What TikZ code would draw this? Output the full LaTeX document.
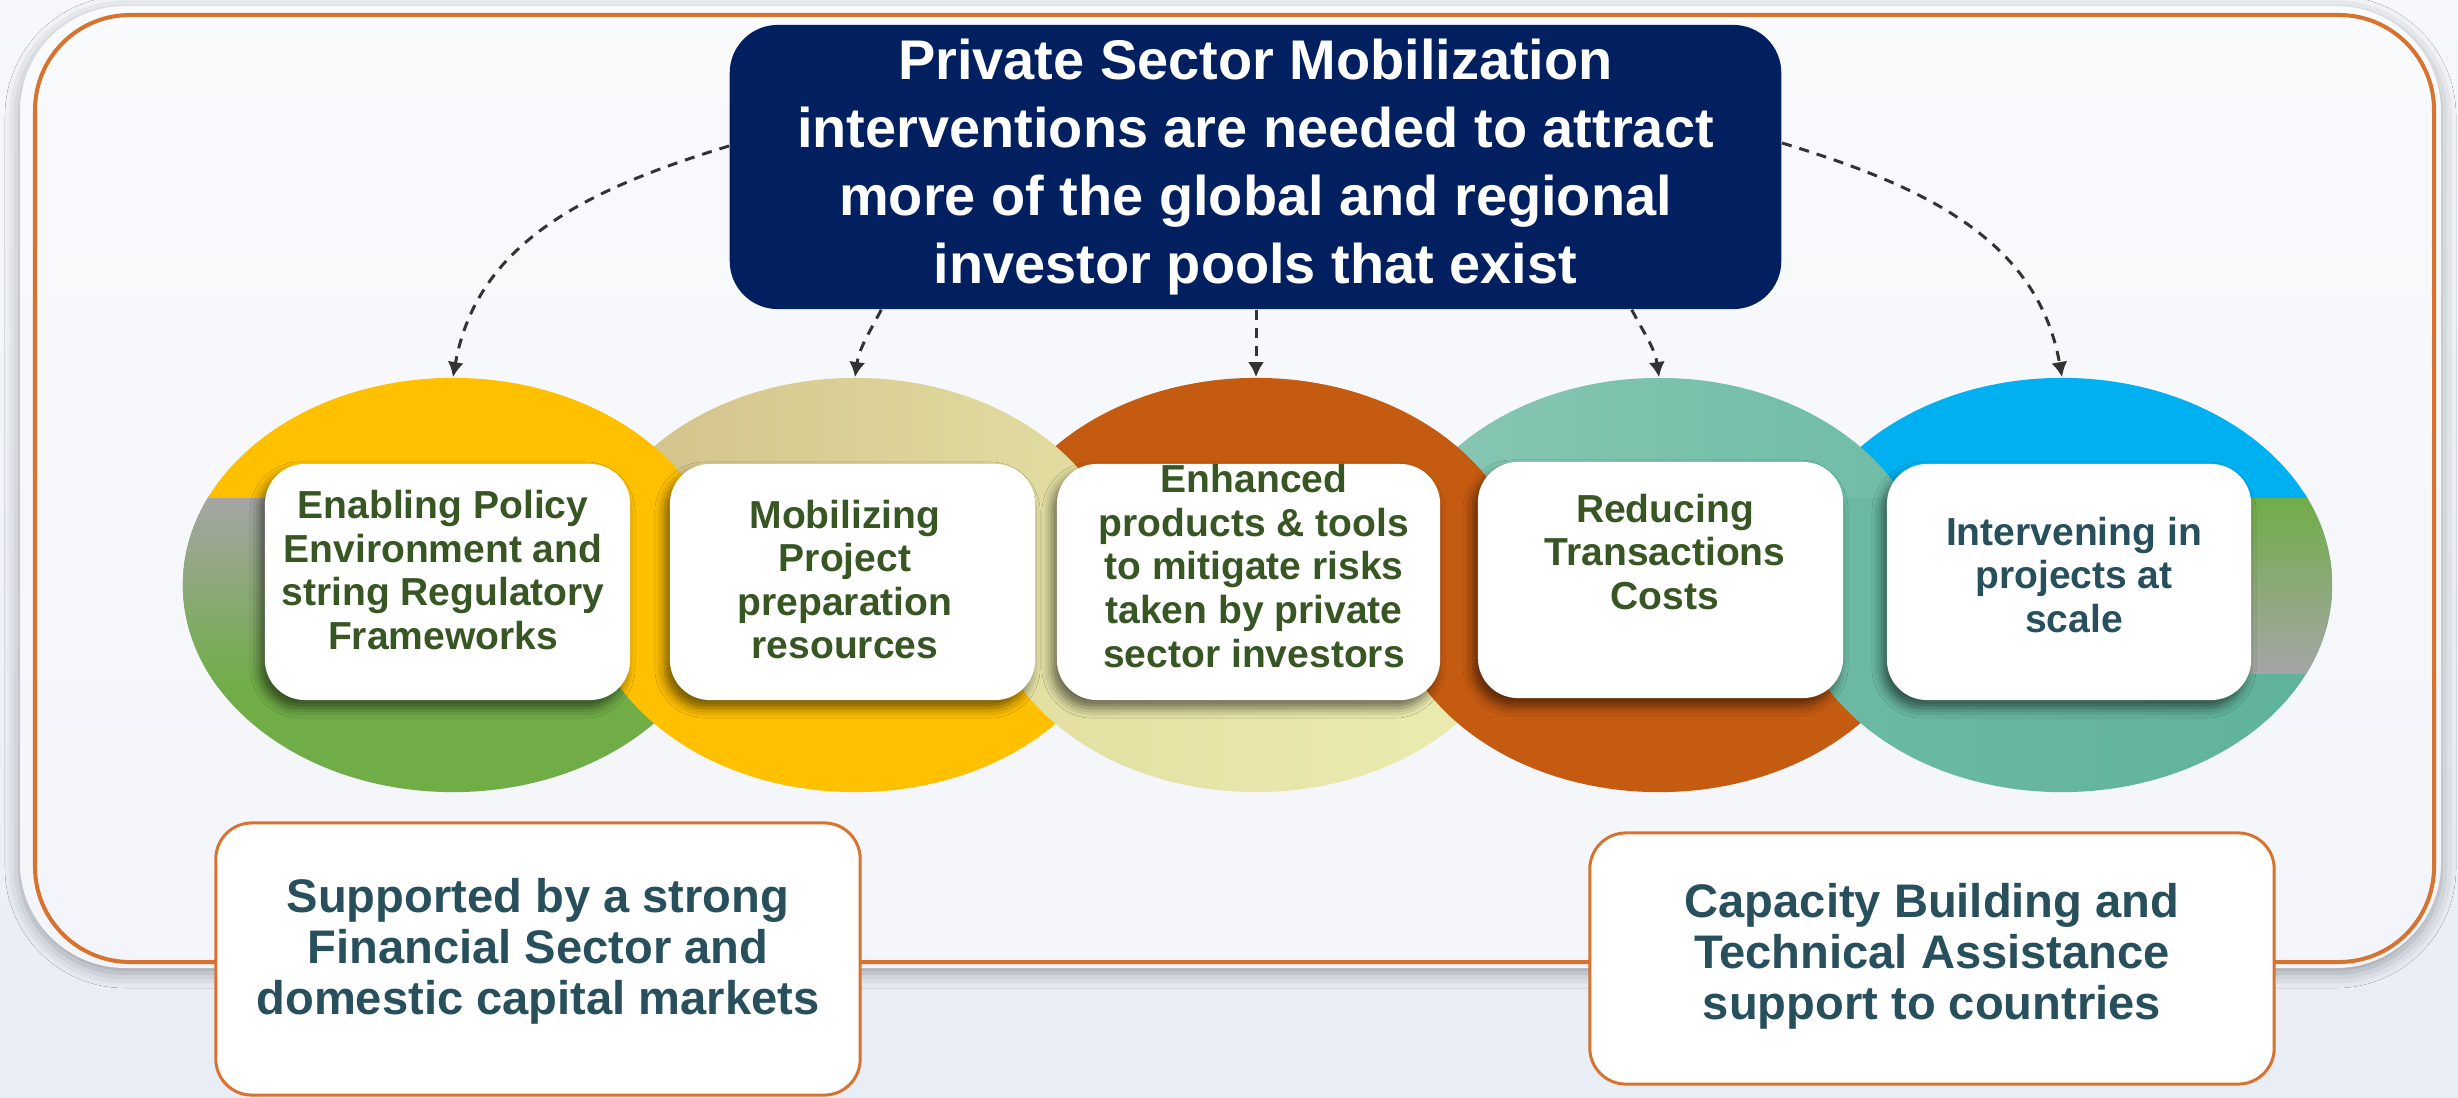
\documentclass[tikz,border=0pt]{standalone}
\usepackage{fontspec}
\setmainfont{Liberation Sans}
\usetikzlibrary{arrows.meta,shapes.geometric,shadows.blur}
\definecolor{bgtop}{HTML}{F6F8FB}
\definecolor{bgbot}{HTML}{E8EDF6}
\definecolor{paneltop}{HTML}{F8FAFC}
\definecolor{panelbot}{HTML}{F3F5FA}
\definecolor{frameorange}{HTML}{D8732F}
\definecolor{navy}{HTML}{022060}
\definecolor{cyellow}{HTML}{FFC000}
\definecolor{cgreen}{HTML}{70AD47}
\definecolor{cgrey}{HTML}{A5A5A5}
\definecolor{cblue}{HTML}{00B0F0}
\definecolor{corange}{HTML}{C55A11}
\definecolor{etwol}{HTML}{D1C089}
\definecolor{etwor}{HTML}{E4DFA4}
\definecolor{ethreel}{HTML}{E2DEA2}
\definecolor{ethreer}{HTML}{EDEDB1}
\definecolor{efourl}{HTML}{89C7B3}
\definecolor{efourr}{HTML}{6EBCA6}
\definecolor{efivel}{HTML}{6CBAA4}
\definecolor{efiver}{HTML}{5FB29A}
\definecolor{txtgreen}{HTML}{375623}
\definecolor{txtslate}{HTML}{274F5C}
\definecolor{arrowgrey}{HTML}{333333}
\begin{document}
\begin{tikzpicture}[x=0.01cm,y=-0.01cm,
  card/.style={fill=white, rounded corners=0.4cm, inner sep=0pt, minimum height=2.36cm,
    blur shadow={shadow xshift=-0.05cm, shadow yshift=-0.08cm, shadow blur radius=0.1cm, shadow opacity=55}},
  cardtext/.style={font=\fontsize{11.1}{12.4}\selectfont\bfseries, text=txtgreen, align=center, inner sep=0pt},
  basebox/.style={fill=white, draw=frameorange, line width=0.03cm, rounded corners=0.36cm, inner sep=0pt},
  basetext/.style={font=\fontsize{13.4}{14.5}\selectfont\bfseries, text=txtslate, align=center, inner sep=0pt},
  darrow/.style={draw=arrowgrey, line width=0.85pt, dash pattern=on 2.85pt off 2.3pt,
    -{Latex[length=4.3pt,width=4.6pt]}},
  ringnode/.style={ellipse, minimum width=5.4cm, minimum height=4.14cm, inner sep=0pt}
]
\useasboundingbox (0,0) rectangle (2458,1097);
\shade[top color=bgtop, bottom color=bgbot] (0,0) rectangle (2458,1097);

% panel with soft grey rim
\path[top color=paneltop, bottom color=panelbot, rounded corners=1.05cm,
  blur shadow={shadow xshift=0cm, shadow yshift=-0.05cm, shadow blur radius=0.15cm, shadow opacity=35}]
  (20,6) rectangle (2441,968);
\draw[frameorange, line width=0.04cm, rounded corners=0.95cm] (35,15) rectangle (2434,962);

% ---- lower parts of the rings (left to right) ----
\begin{scope}
  \clip (150,495) rectangle (760,820);
  \fill[cgreen] (453,585) ellipse [x radius=2.7cm, y radius=2.07cm];
  \clip (453,585) ellipse [x radius=2.7cm, y radius=2.07cm];
  \shade[top color=cgrey, bottom color=cgreen] (150,495) rectangle (453,688);
\end{scope}
\begin{scope}
  \clip (550,495) rectangle (1160,820);
  \fill[cyellow] (855,585) ellipse [x radius=2.7cm, y radius=2.07cm];
\end{scope}
\begin{scope}
  \clip (950,495) rectangle (1560,820);
  \clip (1256,585) ellipse [x radius=2.7cm, y radius=2.07cm];
  \shade[left color=ethreel, right color=ethreer] (986,378) rectangle (1526,792);
\end{scope}
\begin{scope}
  \clip (1350,495) rectangle (1960,820);
  \fill[corange] (1659,585) ellipse [x radius=2.7cm, y radius=2.07cm];
\end{scope}
\begin{scope}
  \clip (1760,495) rectangle (2370,820);
  \clip (2062,585) ellipse [x radius=2.7cm, y radius=2.07cm];
  \shade[left color=efivel, right color=efiver] (1792,378) rectangle (2332,792);
  \shade[top color=cgreen, bottom color=cgrey] (2062,495) rectangle (2340,673);
\end{scope}

% ---- upper parts of the rings (right to left) ----
\begin{scope}
  \clip (1760,360) rectangle (2370,497);
  \fill[cblue] (2062,585) ellipse [x radius=2.7cm, y radius=2.07cm];
\end{scope}
\begin{scope}
  \clip (1350,360) rectangle (1960,497);
  \clip (1659,585) ellipse [x radius=2.7cm, y radius=2.07cm];
  \shade[left color=efourl, right color=efourr] (1389,378) rectangle (1929,792);
\end{scope}
\begin{scope}
  \clip (950,360) rectangle (1560,497);
  \fill[corange] (1256,585) ellipse [x radius=2.7cm, y radius=2.07cm];
\end{scope}
\begin{scope}
  \clip (550,360) rectangle (1160,497);
  \clip (855,585) ellipse [x radius=2.7cm, y radius=2.07cm];
  \shade[left color=etwol, right color=etwor] (585,378) rectangle (1125,792);
\end{scope}
\begin{scope}
  \clip (150,360) rectangle (760,497);
  \fill[cyellow] (453,585) ellipse [x radius=2.7cm, y radius=2.07cm];
\end{scope}

% invisible ring nodes (arrow targets)
\node[ringnode] (E1) at (453,585) {};
\node[ringnode] (E2) at (855,585) {};
\node[ringnode] (E3) at (1256,585) {};
\node[ringnode] (E4) at (1659,585) {};
\node[ringnode] (E5) at (2062,585) {};

% cards
\node[card, minimum width=3.65cm] (b1) at (447.5,582) {};
\node[card, minimum width=3.65cm] (b2) at (852.5,582) {};
\node[card, minimum width=3.83cm] (b3) at (1248.5,582) {};
\node[card, minimum width=3.65cm] (b4) at (1660.5,580) {};
\node[card, minimum width=3.64cm] (b5) at (2069,582) {};

\node[cardtext] (t1) at (443,570) {Enabling Policy\\Environment and\\string Regulatory\\Frameworks};
\node[cardtext] (t2) at (845,579.5) {Mobilizing\\Project\\preparation\\resources};
\node[cardtext] (t3) at (1254,566) {Enhanced\\products \& tools\\to mitigate risks\\taken by private\\sector investors};
\node[cardtext] (t4) at (1665,552) {Reducing\\Transactions\\Costs};
\node[cardtext, text=txtslate] (t5) at (2074,575) {Intervening in\\projects at\\scale};

% title
\node[fill=navy, rounded corners=0.48cm, minimum width=10.51cm, minimum height=2.84cm, inner sep=0pt,
  text=white, font=\fontsize{15.9}{19.3}\selectfont\bfseries, align=center] (title) at (1255.5,167)
  {Private Sector Mobilization\\interventions are needed to attract\\more of the global and regional\\investor pools that exist};

% arrows
\draw[darrow] ([yshift=0.21cm]title.west) to[out=197, in=80] (E1.north);
\draw[darrow] ([xshift=-3.74cm]title.south) to[out=242, in=82] (E2.north);
\draw[darrow] (title.south -| E3.north) -- (E3.north);
\draw[darrow] ([xshift=3.76cm]title.south) to[out=-62, in=98] (E4.north);
\draw[darrow] ([yshift=0.24cm]title.east) to[out=-17, in=100] (E5.north);

% bottom boxes
\node[basebox, minimum width=6.44cm, minimum height=2.72cm] (fs) at (538,959) {};
\node[basetext] (fst) at (538,951.5) {Supported by a strong\\Financial Sector and\\domestic capital markets};
\node[basebox, minimum width=6.84cm, minimum height=2.51cm] (cb) at (1932,958.5) {};
\node[basetext] (cbt) at (1932,956.5) {Capacity Building and\\Technical Assistance\\support to countries};
\end{tikzpicture}
\end{document}
